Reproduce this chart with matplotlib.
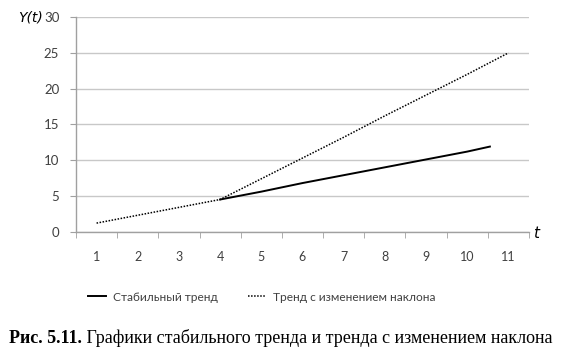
import numpy as np
import matplotlib.pyplot as plt

# data
t_cat = [1, 2, 3, 4, 5, 6, 7, 8, 9, 10, 11]
t_stable = [4, 5, 6, 7, 8, 9, 10, 10.55]
y_stable = [4.5, 5.6, 6.8, 7.9, 9.0, 10.1, 11.2, 11.9]
t_change = [1, 2, 3, 4, 5, 6, 7, 8, 9, 10, 11]
y_change = [1.2, 2.3, 3.4, 4.5, 7.4, 10.3, 13.2, 16.2, 19.1, 22.0, 25.0]
y_ticks = [0, 5, 10, 15, 20, 25, 30]

label_stable = 'Стабильный тренд'
label_change = 'Тренд с изменением наклона'

txt = '#404040'
grid = '#c8c8c8'

fig = plt.figure(figsize=(5.67, 3.57), dpi=100)
ax = fig.add_axes([0.134, 0.351, 0.799, 0.601])

ax.plot(t_stable, y_stable, color='black', lw=1.4, label=label_stable)
ax.plot(t_change, y_change, color='black', lw=1.1, ls=(0, (1, 1)), label=label_change)

ax.set_xlim(0.5, 11.5)
ax.set_ylim(0, 30)
ax.set_yticks(y_ticks)
ax.set_yticklabels([str(v) for v in y_ticks], fontfamily='Lato', fontsize=9.5, color=txt)
ax.set_xticks(t_cat)
ax.set_xticklabels([str(v) for v in t_cat], fontfamily='Lato', fontsize=9, color=txt)
ax.set_xticks(np.arange(0.5, 12, 1), minor=True)
ax.tick_params(axis='x', which='major', length=0, pad=14)
ax.tick_params(axis='x', which='minor', length=4, color='#a0a0a0', direction='out')
ax.tick_params(axis='y', length=4, color='#a0a0a0', pad=8)

ax.grid(axis='y', color=grid, lw=1)
ax.set_axisbelow(True)
for s in ['top', 'right']:
    ax.spines[s].set_visible(False)
for s in ['left', 'bottom']:
    ax.spines[s].set_color('#a0a0a0')
    ax.spines[s].set_linewidth(1)

fig.text(0.032, 0.952, 'Y(t)', fontsize=10, fontstyle='italic', fontfamily='DejaVu Sans',
         va='center', ha='left')
fig.text(0.940, 0.347, 't', fontsize=11, fontstyle='italic', fontfamily='DejaVu Sans',
         va='center', ha='left')

fig.legend(loc='center', bbox_to_anchor=(0.461, 0.168), ncol=2, frameon=False,
           prop={'family': 'Lato', 'size': 8.6}, labelcolor=txt,
           handlelength=1.5, columnspacing=2.5, handletextpad=0.6)

cap1 = fig.text(0.016, 0.052, 'Рис. 5.11.', fontsize=13, fontweight='bold',
                fontfamily='Liberation Serif', va='center', ha='left')
fig.canvas.draw()
bb = cap1.get_window_extent(fig.canvas.get_renderer())
fig.text(bb.x1 / fig.bbox.width, 0.052, ' Графики стабильного тренда и тренда с изменением наклона',
         fontsize=13, fontfamily='Liberation Serif', va='center', ha='left')

plt.savefig('out.png', dpi=100)
